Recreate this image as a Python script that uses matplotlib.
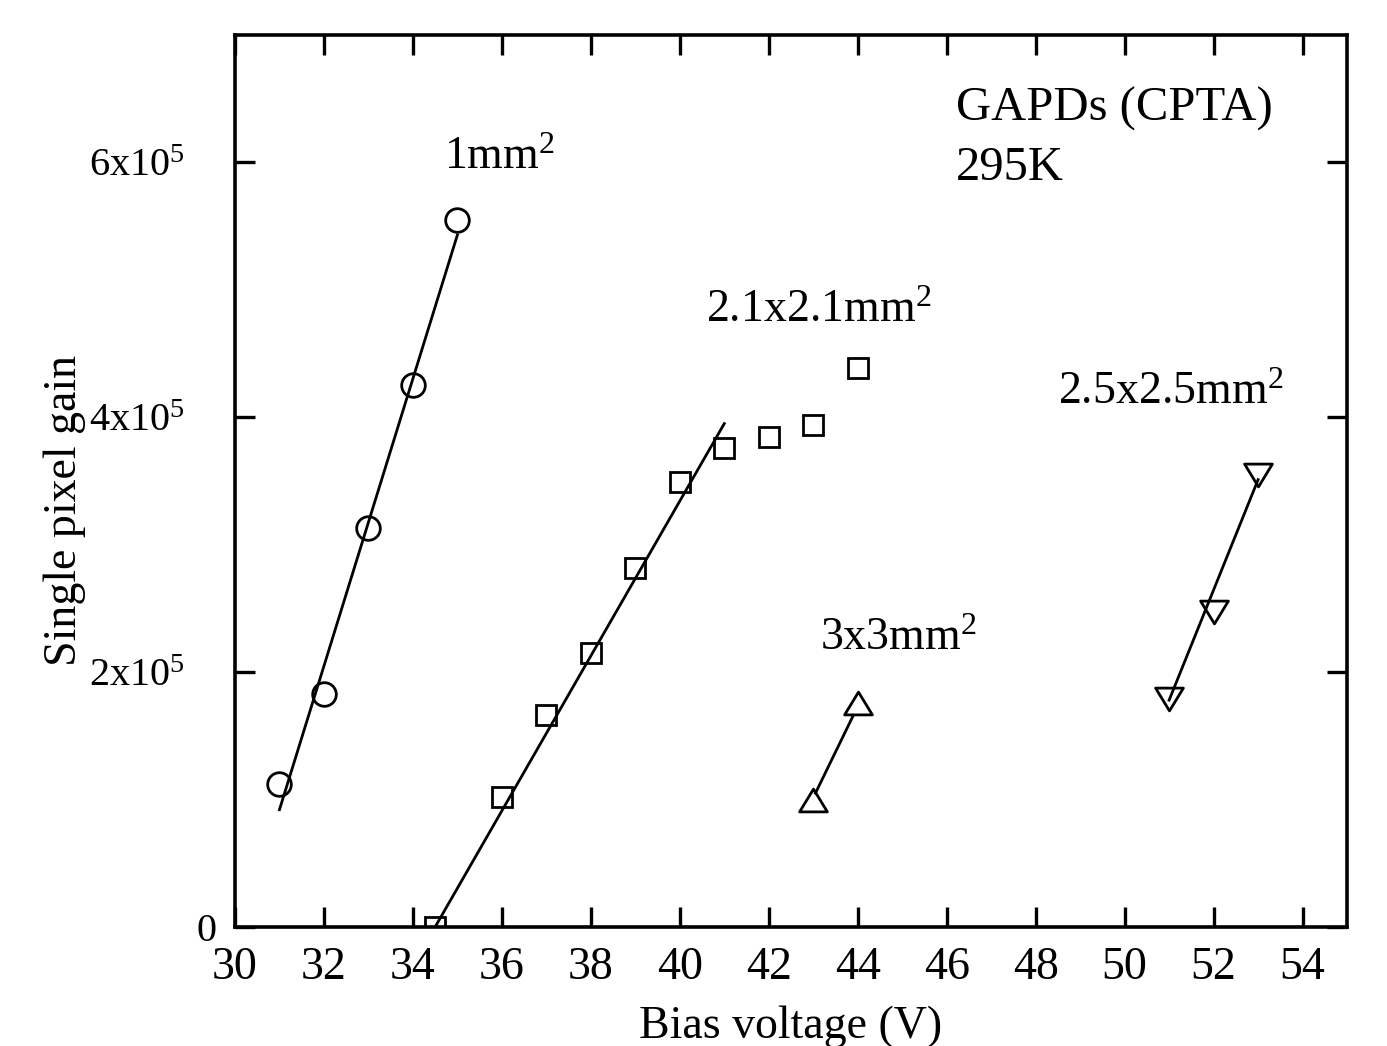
import numpy as np
import matplotlib
matplotlib.use("Agg")
import matplotlib.pyplot as plt
from matplotlib.path import Path
from matplotlib.transforms import ScaledTranslation

plt.rcParams['font.family'] = ['Liberation Serif', 'DejaVu Serif']
plt.rcParams['mathtext.fontset'] = 'custom'
plt.rcParams['mathtext.rm'] = 'Liberation Serif'
plt.rcParams['mathtext.it'] = 'Liberation Serif'
plt.rcParams['font.size'] = 32

# date
v_1mm = [31, 32, 33, 34, 35]
g_1mm = [1.12e5, 1.83e5, 3.13e5, 4.25e5, 5.55e5]
fit_1mm_x = [31, 35]
fit_1mm_y = [0.92e5, 5.43e5]

v_21mm = [34.5, 36, 37, 38, 39, 40, 41, 42, 43, 44]
g_21mm = [0, 1.02e5, 1.66e5, 2.15e5, 2.82e5, 3.49e5, 3.76e5, 3.845e5, 3.94e5, 4.39e5]
fit_21mm_x = [34.5, 41]
fit_21mm_y = [0.0, 3.95e5]

v_3mm = [43, 44]
g_3mm = [1.0e5, 1.76e5]
fit_3mm_x = [43.05, 43.9]
fit_3mm_y = [1.05e5, 1.66e5]

v_25mm = [51, 52, 53]
g_25mm = [1.79e5, 2.47e5, 3.55e5]
fit_25mm_x = [51, 53]
fit_25mm_y = [1.78e5, 3.51e5]

x_ticks = list(range(30, 55, 2))
y_ticks = [0, 2e5, 4e5, 6e5]
y_tick_labels = ['0', '2x10$^5$', '4x10$^5$', '6x10$^5$']

# triunghiuri putin turtite, ca in original
tri_up = Path([(0, 0.82), (-1, -0.82), (1, -0.82), (0, 0.82)],
              [Path.MOVETO, Path.LINETO, Path.LINETO, Path.CLOSEPOLY])
tri_down = Path([(0, -0.82), (-1, 0.82), (1, 0.82), (0, -0.82)],
                [Path.MOVETO, Path.LINETO, Path.LINETO, Path.CLOSEPOLY])

fig = plt.figure(figsize=(13.87, 10.46), dpi=100)
ax = fig.add_axes([0.1694, 0.1138, 0.8018, 0.8528])

lw_fit = 2.0
mew = 2.0
ax.plot(fit_1mm_x, fit_1mm_y, color='black', lw=lw_fit)
ax.plot(v_1mm, g_1mm, linestyle='none', marker='o', ms=17, mfc='none', mec='black', mew=mew)

ax.plot(fit_21mm_x, fit_21mm_y, color='black', lw=lw_fit)
ax.plot(v_21mm, g_21mm, linestyle='none', marker='s', ms=14.5, mfc='none', mec='black', mew=mew)

ax.plot(fit_3mm_x, fit_3mm_y, color='black', lw=lw_fit)
ax.plot(v_3mm, g_3mm, linestyle='none', marker=tri_up, ms=20, mfc='none', mec='black', mew=mew)

ax.plot(fit_25mm_x, fit_25mm_y, color='black', lw=lw_fit)
ax.plot(v_25mm, g_25mm, linestyle='none', marker=tri_down, ms=20, mfc='none', mec='black', mew=mew)

ax.set_xlim(30, 55)
ax.set_ylim(0, 7e5)
ax.set_xticks(x_ticks)
ax.set_yticks(y_ticks)
ax.set_yticklabels(y_tick_labels)

for s in ax.spines.values():
    s.set_linewidth(2.6)
ax.tick_params(axis='both', direction='in', length=14.5, width=2.4,
               top=True, right=True)
ax.tick_params(axis='x', pad=14, labelsize=33)
ax.tick_params(axis='y', pad=36, labelsize=29)

# eticheta "0" e mai aproape de axa
for lab in ax.get_yticklabels():
    if lab.get_text() == '0':
        lab.set_transform(lab.get_transform() + ScaledTranslation(0.32, 0, fig.dpi_scale_trans))

ax.set_xlabel('Bias voltage (V)', fontsize=33, labelpad=12)
ax.set_ylabel('Single pixel gain', fontsize=33, va='center')
ax.yaxis.set_label_coords(-0.153, 0.4675)

ax.text(34.7, 5.95e5, '1mm$^2$', fontsize=33)
ax.text(40.6, 4.75e5, '2.1x2.1mm$^2$', fontsize=33)
ax.text(48.5, 4.1e5, '2.5x2.5mm$^2$', fontsize=33)
ax.text(43.15, 2.17e5, '3x3mm$^2$', fontsize=33)
ax.text(46.2, 6.33e5, 'GAPDs (CPTA)', fontsize=35)
ax.text(46.2, 5.86e5, '295K', fontsize=35)

fig.savefig('out.png', dpi=100)
